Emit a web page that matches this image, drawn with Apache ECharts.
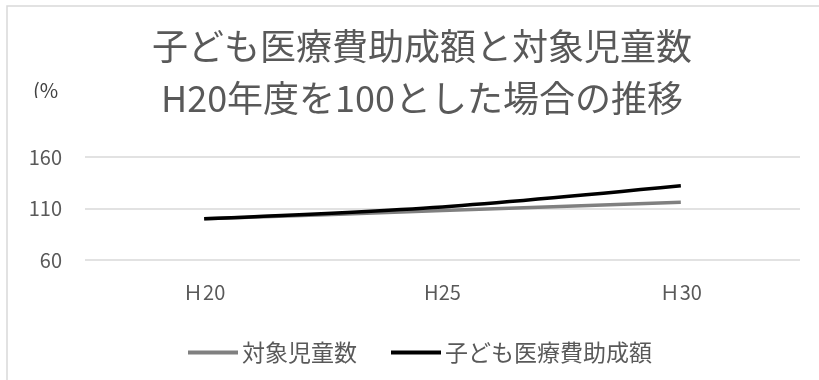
<!DOCTYPE html>
<html>
<head>
<meta charset="utf-8">
<script src="https://cdn.jsdelivr.net/npm/echarts@6/dist/echarts.min.js"></script>
<style>html,body{margin:0;padding:0;background:#fff}#c{width:819px;height:380px}</style>
</head>
<body>
<div id="c"></div>
<script>
const categories = ['Ｈ20', 'H25', 'Ｈ30'];
const childCount = [100, 108, 116];
const medicalSubsidy = [100, 111.5, 132];
const seriesNames = ['対象児童数', '子ども医療費助成額'];
const titleText = '子ども医療費助成額と対象児童数\nH20年度を100とした場合の推移';
const unitText = '(%';

const FONT = '"Noto Sans CJK JP", "Noto Sans", sans-serif';
const chart = echarts.init(document.getElementById('c'), null, {renderer: 'canvas'});
chart.setOption({
  backgroundColor: '#fff',
  animation: false,
  title: {
    text: titleText,
    left: 417,
    top: 15,
    textAlign: 'center',
    textStyle: {fontFamily: FONT, fontSize: 36, fontWeight: 'normal', color: '#595959', lineHeight: 52}
  },
  graphic: [
    {type: 'rect', shape: {x: 7, y: 6, width: 900, height: 500}, style: {fill: 'none', stroke: '#d9d9d9', lineWidth: 1.5}, silent: true},
    {type: 'text', left: 33, top: 80, style: {text: unitText, fontFamily: FONT, fontSize: 20, fill: '#404040'}, z: 1},
    {type: 'rect', shape: {x: 28, y: 98, width: 40, height: 12}, style: {fill: '#fff'}, z: 2, silent: true}
  ],
  legend: {
    data: seriesNames,
    left: 183,
    top: 336,
    itemWidth: 50,
    itemHeight: 4,
    itemGap: 34,
    icon: 'rect',
    textStyle: {fontFamily: FONT, fontSize: 23, color: '#595959', padding: [0, 0, 0, -1]}
  },
  grid: {left: 85, right: 19, top: 157, bottom: 120, containLabel: false},
  xAxis: {
    type: 'category',
    data: categories,
    boundaryGap: true,
    axisLine: {show: false},
    axisTick: {show: false},
    axisLabel: {fontFamily: FONT, fontSize: 20, color: '#595959', margin: 22}
  },
  yAxis: {
    type: 'value',
    min: 60,
    max: 160,
    interval: 50,
    axisLine: {show: false},
    axisTick: {show: false},
    splitLine: {lineStyle: {color: '#d9d9d9', width: 1.5}},
    axisLabel: {fontFamily: FONT, fontSize: 20, color: '#595959', margin: 23}
  },
  series: [
    {
      name: seriesNames[0], type: 'line', data: childCount, smooth: 0.3,
      symbol: 'none', lineStyle: {color: '#808080', width: 3.5}, itemStyle: {color: '#808080'}
    },
    {
      name: seriesNames[1], type: 'line', data: medicalSubsidy, smooth: 0.3,
      symbol: 'none', lineStyle: {color: '#000000', width: 3.5}, itemStyle: {color: '#000000'}
    }
  ]
});
</script>
</body>
</html>
